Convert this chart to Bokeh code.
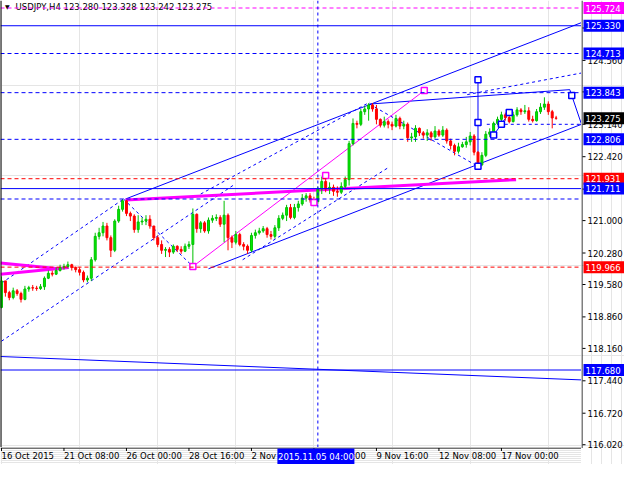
from bokeh.plotting import figure
from bokeh.models import Span, Range1d, ColumnDataSource
from bokeh.layouts import column, row
from bokeh.core.properties import value
from bokeh.embed import file_html
from bokeh.resources import INLINE

# ---------------- data (USDJPY H4) ----------------
first_open = 119.07
closes = [119.66,119.40,119.29,119.44,119.38,119.25,119.48,119.51,119.50,119.49,
          119.53,119.72,119.83,119.81,119.89,119.96,119.98,120.02,119.96,119.91,
          119.85,119.68,119.72,120.13,120.65,120.73,120.88,120.62,120.34,120.99,
          121.25,121.44,121.16,121.10,120.80,120.97,120.99,121.03,120.88,120.62,
          120.47,120.34,120.36,120.30,120.43,120.36,120.32,120.43,120.47,121.14,
          120.82,120.95,120.77,121.01,121.05,121.07,120.92,121.12,120.62,120.52,
          120.69,120.47,120.43,120.34,120.67,120.73,120.77,120.82,120.69,120.65,
          120.84,121.05,121.12,121.29,121.07,121.29,121.37,121.50,121.55,121.46,
          121.42,121.70,121.87,121.70,121.74,121.65,121.63,121.76,121.91,122.71,
          123.16,123.14,123.42,123.48,123.57,123.48,123.25,123.12,123.20,123.14,
          123.10,123.27,123.10,123.14,122.84,122.86,123.05,122.95,122.90,122.95,
          122.86,122.99,122.90,123.01,122.77,122.67,122.54,122.64,122.69,122.75,
          122.88,122.52,122.24,122.45,122.92,122.97,123.16,123.25,123.35,123.29,
          123.20,123.35,123.46,123.42,123.44,123.25,123.22,123.42,123.52,123.59,
          123.42,123.28,123.275]
highs = [119.76,119.48,119.44,119.51,119.48,119.42,119.55,119.55,119.57,119.55,
         119.59,119.76,119.89,119.89,119.96,120.02,120.04,120.09,120.04,119.98,
         119.96,119.89,119.78,120.19,120.73,120.84,120.97,120.95,120.67,121.03,
         121.33,121.48,121.46,121.20,121.14,121.12,121.07,121.12,121.12,120.86,
         120.67,120.56,120.41,120.41,120.47,120.45,120.43,120.49,120.54,121.27,
         121.16,120.99,120.99,121.07,121.12,121.14,121.12,121.44,121.16,120.67,
         120.77,120.73,120.52,120.47,120.73,120.80,120.84,120.88,120.86,120.77,
         120.90,121.12,121.18,121.35,121.37,121.37,121.44,121.59,121.61,121.61,
         121.53,121.76,121.98,122.02,121.85,121.80,121.76,121.85,121.98,122.77,
         123.27,123.22,123.48,123.55,123.61,123.61,123.57,123.27,123.31,123.25,
         123.20,123.35,123.31,123.22,123.18,122.95,123.12,123.07,122.99,123.03,
         122.99,123.10,123.03,123.10,123.05,122.82,122.71,122.73,122.75,122.86,
         122.97,122.92,122.54,122.52,122.99,123.05,123.20,123.31,123.42,123.40,
         123.42,123.42,123.52,123.50,123.57,123.52,123.33,123.48,123.61,123.74,
         123.65,123.46,123.328]
lows = [119.05,119.31,119.23,119.25,119.33,119.18,119.23,119.42,119.44,119.44,
        119.46,119.46,119.70,119.76,119.79,119.87,119.91,119.94,119.89,119.85,
        119.78,119.63,119.63,119.66,120.09,120.58,120.65,120.56,120.19,120.30,
        120.95,121.20,121.10,120.99,120.73,120.73,120.90,120.90,120.82,120.56,
        120.41,120.26,120.19,120.19,120.26,120.30,120.26,120.30,120.37,119.97,
        120.73,120.73,120.73,120.71,120.95,120.99,120.86,120.52,120.34,120.39,
        120.47,120.43,120.34,120.26,120.30,120.60,120.69,120.73,120.62,120.58,
        120.60,120.77,121.01,120.99,121.03,121.03,121.20,121.33,121.42,121.40,
        121.35,121.37,121.59,121.63,121.59,121.55,121.53,121.59,121.72,121.78,
        122.67,123.05,123.10,123.35,123.22,123.42,123.14,123.07,123.07,123.05,
        123.01,123.07,123.03,123.03,122.75,122.75,122.75,122.88,122.82,122.77,
        122.77,122.82,122.86,122.86,122.71,122.58,122.45,122.49,122.62,122.62,
        122.67,122.45,122.17,122.21,122.41,122.86,122.90,123.12,123.14,123.22,
        123.16,123.18,123.31,123.35,123.37,123.20,123.18,123.20,123.37,123.46,
        123.35,123.05,123.242]

time_tick_bars = [0, 16, 32, 48, 64, 80, 96, 112, 128]
time_tick_labels = ["16 Oct 2015", "21 Oct 08:00", "26 Oct 00:00", "28 Oct 16:00",
                    "2 Nov 08:00", "5 Nov 00:00", "9 Nov 16:00", "12 Nov 08:00", "17 Nov 00:00"]
price_ticks = [116.02, 116.72, 117.44, 118.16, 118.86, 119.58, 120.28, 121.00,
               121.70, 122.42, 123.14, 123.86, 124.56, 125.28]

level_prices = [125.724, 125.330, 124.713, 123.843, 122.806, 121.931, 121.711, 121.48, 119.966, 117.680]
level_colors = ["#ff00ff", "#0000ff", "#0000ff", "#0000ff", "#0000ff", "#ff0000", "#0000ff", "#0000ff", "#ff0000", "#0000ff"]
level_dashed = [True, False, True, True, True, True, False, True, True, False]
level_tagged = [True, True, True, True, True, True, True, False, True, True]
current_price = 123.275
cursor_bar = 81
cursor_label = "2015.11.05 04:00"
symbol_header = "USDJPY,H4  123.280 123.328 123.242 123.275"

# trend objects: (bar0, price0, bar1, price1)
solid_blue = [(31.75, 121.48, 148.5, 125.40), (53.0, 119.93, 148.5, 123.14),
              (94.25, 123.59, 145.5, 123.91), (-0.25, 117.98, 148.5, 117.46),
              (145.5, 123.91, 146.0, 123.78), (146.0, 123.78, 148.5, 123.14),
              (122.0, 124.13, 122.0, 122.21), (126.0, 122.90, 128.0, 123.14),
              (128.0, 123.14, 130.0, 123.40)]
dashed_blue = [(0.0, 119.61, 31.25, 121.48), (0.0, 118.32, 59.25, 121.78),
               (31.25, 121.48, 49.0, 119.98), (94.25, 123.59, 122.25, 122.19),
               (124.25, 123.14, 148.5, 123.14), (51.0, 121.59, 94.25, 123.63),
               (61.75, 120.13, 99.25, 122.19), (119.25, 123.80, 148.5, 124.28)]
magenta_thick = [(31.75, 121.46, 131.75, 121.91), (-0.25, 120.06, 14.75, 119.93),
                 (-0.25, 119.81, 17.25, 119.96)]
magenta_thin = [(49.0, 119.98, 108.25, 123.89)]
magenta_marks_x = [49.0, 80.0, 83.0, 108.25]
magenta_marks_y = [119.98, 121.40, 122.00, 123.89]
blue_marks_x = [122.0, 122.0, 122.0, 126.0, 128.0, 130.0, 146.0]
blue_marks_y = [124.13, 123.18, 122.21, 122.90, 123.14, 123.40, 123.78]

# ---------------- layout constants ----------------
FONT = "DejaVu Sans"
FS = "8.5px"
MAIN_W, MAIN_H = 581, 447
SCALE_W, TIME_H = 43, 17
x0r, x1r = -0.25, 148.5
y0r, y1r = 115.958, 125.891

def bare(fig):
    fig.outline_line_color = None
    fig.background_fill_color = "white"
    fig.border_fill_color = "white"
    fig.min_border_left = fig.min_border_right = 0
    fig.min_border_top = fig.min_border_bottom = 0
    return fig

# ---------------- main chart ----------------
p = bare(figure(width=MAIN_W, height=MAIN_H, output_backend="svg", toolbar_location=None,
                x_range=Range1d(x0r, x1r), y_range=Range1d(y0r, y1r),
                x_axis_location=None, y_axis_location=None))

for pr, col, dsh in zip(level_prices, level_colors, level_dashed):
    p.add_layout(Span(location=pr, dimension="width", line_color=col, line_width=1,
                      line_dash="4 3" if dsh else "solid"))
p.add_layout(Span(location=cursor_bar, dimension="height", line_color="#0000ff",
                  line_width=1, line_dash="3 3"))
p.add_layout(Span(location=x0r, dimension="height", line_color="black", line_width=2))

def segs(fig, lst, **kw):
    fig.segment(x0=[s[0] for s in lst], y0=[s[1] for s in lst],
                x1=[s[2] for s in lst], y1=[s[3] for s in lst], **kw)

segs(p, dashed_blue, line_color="#0000ff", line_width=1, line_dash="3 3")
segs(p, solid_blue, line_color="#0000ff", line_width=1)
segs(p, magenta_thin, line_color="#ff00ff", line_width=1)
segs(p, magenta_thick, line_color="#ff00ff", line_width=3)

opens = [first_open] + closes[:-1]
n = len(closes)
src = ColumnDataSource(dict(
    x=list(range(n)), h=highs, l=lows,
    top=[max(o, c) for o, c in zip(opens, closes)],
    bottom=[min(o, c) for o, c in zip(opens, closes)],
    fill=["#00ee00" if c >= o else "#ff0000" for o, c in zip(opens, closes)],
    edge=["#00c000" if c >= o else "#ff0000" for o, c in zip(opens, closes)],
))
p.segment(x0="x", y0="h", x1="x", y1="l", line_color="edge", line_width=1, source=src)
p.vbar(x="x", width=0.5, top="top", bottom="bottom", fill_color="fill", line_color="edge",
       line_width=1, source=src)

p.scatter(magenta_marks_x, magenta_marks_y, marker="square", size=6, line_color="#ff00ff",
          fill_color="white", line_width=1.5)
p.scatter(blue_marks_x, blue_marks_y, marker="square", size=6, line_color="#0000ff",
          fill_color="white", line_width=1.5)

p.text(x=[0.9], y=[125.84], text=["\u25bc"], text_font=value(FONT), text_font_size=value("6px"),
       text_baseline="top", text_color="black")
p.text(x=[3.6], y=[125.86], text=[symbol_header], text_font=value(FONT),
       text_font_size=value(FS), text_baseline="top", text_color="black")

# ---------------- time scale (bottom) ----------------
tm_fig = bare(figure(width=MAIN_W, height=TIME_H, output_backend="svg", toolbar_location=None,
                     x_range=p.x_range, y_range=Range1d(0, TIME_H),
                     x_axis_location=None, y_axis_location=None))
tm_fig.segment(x0=[x0r], y0=[16.5], x1=[x1r], y1=[16.5], line_color="black", line_width=1)
tm_fig.segment(x0=time_tick_bars, y0=[16.5] * len(time_tick_bars), x1=time_tick_bars,
               y1=[13.5] * len(time_tick_bars), line_color="black", line_width=1)
tm_fig.text(x=time_tick_bars, y=[13.8] * len(time_tick_bars), text=time_tick_labels,
            text_font=value(FONT), text_font_size=value(FS), text_baseline="top",
            text_align="left", text_color="black")
tm_fig.rect(x=[cursor_bar - 0.5], y=[8], width=77, width_units="screen", height=16,
            fill_color="#0000ff", line_color=None)
tm_fig.text(x=[cursor_bar - 0.5], y=[8], text=[cursor_label], text_font=value(FONT),
            text_font_size=value(FS), text_baseline="middle", text_align="center",
            text_color="white")

# ---------------- price scale (right, spans chart + time strip) ----------------
per_px = (y1r - y0r) / MAIN_H
pr_fig = bare(figure(width=SCALE_W, height=MAIN_H + TIME_H, output_backend="svg",
                     toolbar_location=None, x_range=Range1d(0, SCALE_W),
                     y_range=Range1d(y0r - TIME_H * per_px, y1r),
                     x_axis_location=None, y_axis_location=None))
pr_fig.segment(x0=[0.5], y0=[y0r - 0.5 * per_px], x1=[0.5], y1=[y1r], line_color="black", line_width=1)
pr_fig.segment(x0=[1] * len(price_ticks), y0=price_ticks, x1=[4] * len(price_ticks), y1=price_ticks,
               line_color="black", line_width=1)
pr_fig.text(x=[6] * len(price_ticks), y=price_ticks, text=[f"{t:.3f}" for t in price_ticks],
            text_font=value(FONT), text_font_size=value(FS), text_baseline="middle",
            text_align="left", text_color="black")
tag_p = [pr for pr, t in zip(level_prices, level_tagged) if t] + [current_price]
tag_c = [c for c, t in zip(level_colors, level_tagged) if t] + ["#000000"]
pr_fig.rect(x=[22.5] * len(tag_p), y=tag_p, width=41, height=12, height_units="screen",
            fill_color=tag_c, line_color=None)
pr_fig.text(x=[4] * len(tag_p), y=tag_p, text=[f"{v:.3f}" for v in tag_p],
            text_font=value(FONT), text_font_size=value(FS), text_baseline="middle",
            text_align="left", text_color="white")

layout = row(column(p, tm_fig), pr_fig)
open("out.html", "w").write(file_html(layout, INLINE))
